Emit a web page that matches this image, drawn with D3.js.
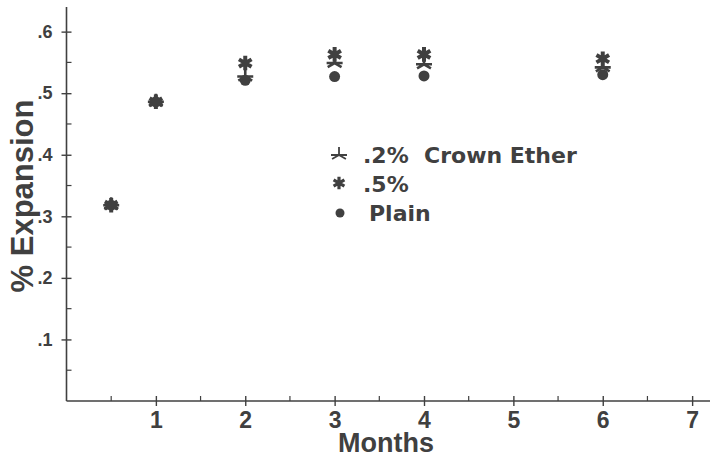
<!DOCTYPE html>
<html>
<head>
<meta charset="utf-8">
<script src="https://cdn.jsdelivr.net/npm/d3@7"></script>
<style>
  body { margin: 0; background: #fff; }
  svg { display: block; }
</style>
</head>
<body>
<div id="chart"></div>
<script>
// values
const months = [0.5, 1, 2, 3, 4, 6];
const crown2 = [0.318, 0.486, 0.527, 0.549, 0.547, 0.542];
const crown5 = [0.318, 0.486, 0.549, 0.563, 0.563, 0.556];
const plain  = [0.318, 0.486, 0.521, 0.527, 0.528, 0.530];

const xTicks = [1, 2, 3, 4, 5, 6, 7];
const xMinor = [0.5, 1.5, 2.5, 3.5, 4.5, 5.5, 6.5];
const yTicks = [0.1, 0.2, 0.3, 0.4, 0.5, 0.6];
const yMinor = [0.05, 0.15, 0.25, 0.35, 0.45, 0.55];

const legendLabels = [".2%  Crown Ether", ".5%", "Plain"];

const width = 710, height = 459;
const ink = "#404040";

const svg = d3.select("#chart").append("svg")
  .attr("width", width)
  .attr("height", height);

const x = d3.scaleLinear().domain([0, 7.2]).range([66.5, 710]);
const y = d3.scaleLinear().domain([0, 0.64]).range([401, 7]);

// custom marker shapes
function starPath(r) {
  // thin star: up arm, two lower diagonals and a horizontal bar
  const a = r * Math.sin(Math.PI / 3), b = r * Math.cos(Math.PI / 3);
  return `M0,0L0,${-r}M0,0L${-a},${b}M0,0L${a},${b}M${-r},0L${r},0`;
}

// axes
const yAxis = svg.append("g")
  .attr("transform", `translate(${x(0)},0)`)
  .call(d3.axisLeft(y).tickValues(yTicks).tickSize(5).tickPadding(9)
    .tickFormat(d => d3.format(".1f")(d).replace(/^0/, "")));
yAxis.select(".domain").remove();
yAxis.selectAll(".tick line").attr("x1", 5).attr("stroke", ink).attr("stroke-width", 1.4);
yAxis.selectAll(".tick text")
  .attr("fill", ink)
  .style("font", "bold 18px 'Liberation Sans', Arial, sans-serif");

const xAxis = svg.append("g")
  .attr("transform", `translate(0,${y(0)})`)
  .call(d3.axisBottom(x).tickValues(xTicks).tickSize(5).tickPadding(6)
    .tickFormat(d3.format("d")));
xAxis.select(".domain").remove();
xAxis.selectAll(".tick line").attr("y1", -5).attr("stroke", ink).attr("stroke-width", 1.4);
xAxis.selectAll(".tick text")
  .attr("fill", ink)
  .style("font", "bold 23px 'Liberation Sans', Arial, sans-serif");

// minor ticks
svg.append("g").selectAll("line")
  .data(yMinor)
  .join("line")
  .attr("x1", x(0)).attr("x2", x(0) + 5)
  .attr("y1", d => y(d)).attr("y2", d => y(d))
  .attr("stroke", ink).attr("stroke-width", 1.2);

svg.append("g").selectAll("line")
  .data(xMinor)
  .join("line")
  .attr("x1", d => x(d)).attr("x2", d => x(d))
  .attr("y1", y(0)).attr("y2", y(0) - 5)
  .attr("stroke", ink).attr("stroke-width", 1.2);

// axis lines
svg.append("line")
  .attr("x1", x(0)).attr("x2", x(0))
  .attr("y1", y(0.64)).attr("y2", y(0))
  .attr("stroke", ink).attr("stroke-width", 1.6);
svg.append("line")
  .attr("x1", x(0)).attr("x2", x(7.2))
  .attr("y1", y(0)).attr("y2", y(0))
  .attr("stroke", ink).attr("stroke-width", 1.6);

// axis titles
svg.append("text")
  .attr("x", 386)
  .attr("y", 452)
  .attr("text-anchor", "middle")
  .attr("fill", ink)
  .style("font", "bold 27px 'Liberation Sans', Arial, sans-serif")
  .text("Months");

svg.append("text")
  .attr("transform", "translate(33,196) rotate(-90)")
  .attr("text-anchor", "middle")
  .attr("fill", ink)
  .style("font", "bold 31px 'Liberation Sans', Arial, sans-serif")
  .text("% Expansion");

// data marks
const plot = svg.append("g");

plot.selectAll("circle.plain")
  .data(months.map((m, i) => [m, plain[i]]))
  .join("circle")
  .attr("class", "plain")
  .attr("cx", d => x(d[0]))
  .attr("cy", d => y(d[1]))
  .attr("r", 5.5)
  .attr("fill", ink);

plot.selectAll("path.c2")
  .data(months.map((m, i) => [m, crown2[i]]))
  .join("path")
  .attr("class", "c2")
  .attr("transform", d => `translate(${x(d[0])},${y(d[1])})`)
  .attr("d", starPath(8))
  .attr("fill", "none")
  .attr("stroke", ink)
  .attr("stroke-width", 2.6);

plot.selectAll("path.c5")
  .data(months.map((m, i) => [m, crown5[i]]))
  .join("path")
  .attr("class", "c5")
  .attr("transform", d => `translate(${x(d[0])},${y(d[1])})`)
  .attr("d", d3.symbol().type(d3.symbolAsterisk).size(150))
  .attr("fill", "none")
  .attr("stroke", ink)
  .attr("stroke-width", 4);

// legend
const legend = svg.append("g");
const legendY = [163, 192, 221];

legend.append("path")
  .attr("transform", `translate(339,${legendY[0] - 8})`)
  .attr("d", starPath(8))
  .attr("fill", "none").attr("stroke", ink).attr("stroke-width", 1.8);
legend.append("path")
  .attr("transform", `translate(339,${legendY[1] - 9})`)
  .attr("d", d3.symbol().type(d3.symbolAsterisk).size(110))
  .attr("fill", "none").attr("stroke", ink).attr("stroke-width", 3.2);
legend.append("circle")
  .attr("cx", 340).attr("cy", legendY[2] - 8)
  .attr("r", 4.5)
  .attr("fill", ink);

legend.selectAll("text")
  .data(legendLabels)
  .join("text")
  .attr("x", (d, i) => i === 2 ? 369 : 363)
  .attr("y", (d, i) => legendY[i])
  .attr("fill", ink)
  .style("white-space", "pre")
  .style("font", "bold 22px 'DejaVu Sans', sans-serif")
  .text(d => d);
</script>
</body>
</html>
